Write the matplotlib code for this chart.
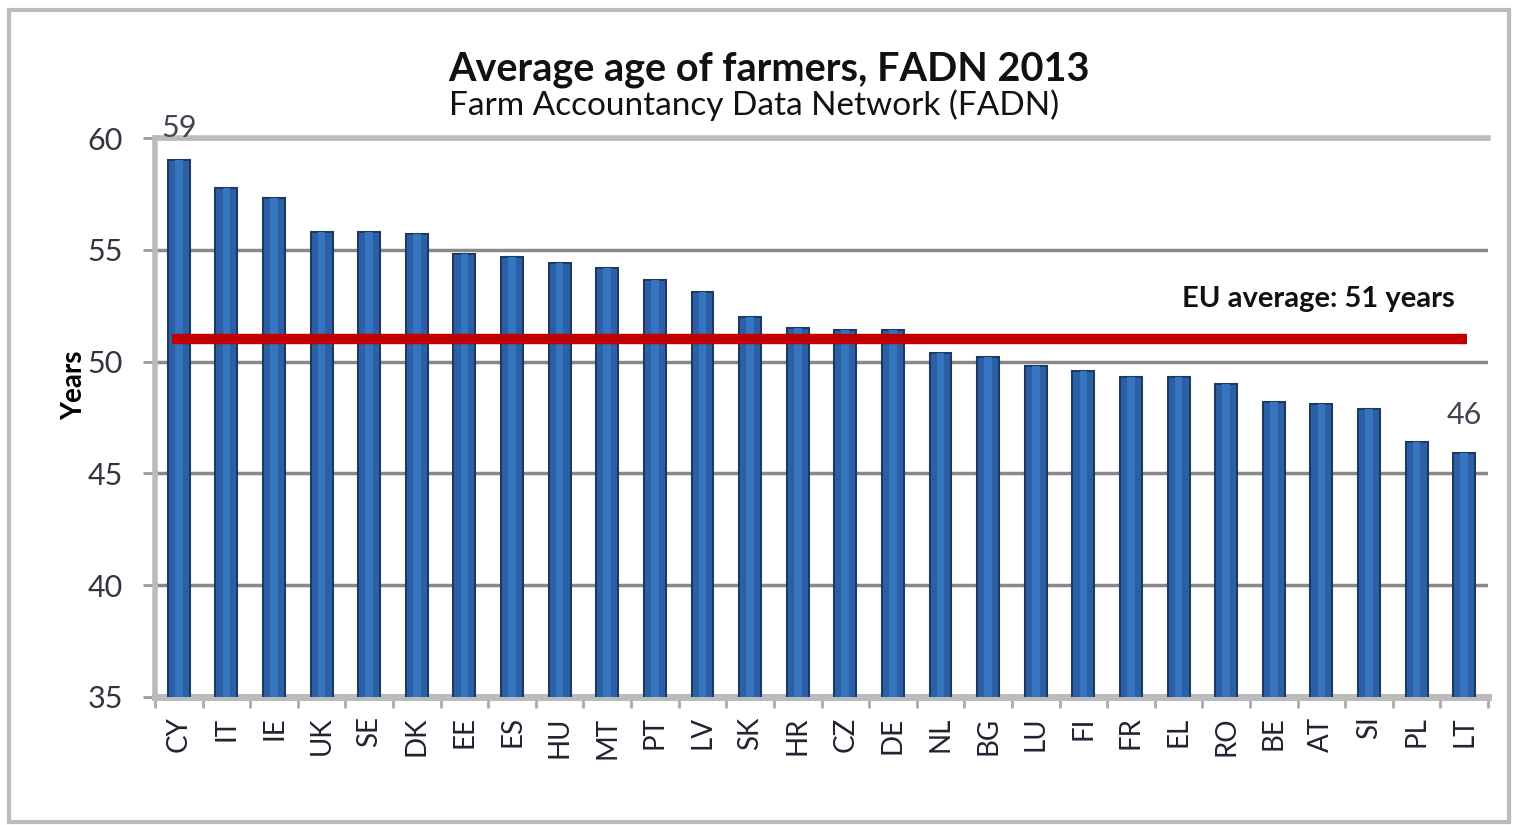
import matplotlib
matplotlib.use("Agg")
import matplotlib.pyplot as plt
from matplotlib.patches import Rectangle
import numpy as np

countries = ["CY", "IT", "IE", "UK", "SE", "DK", "EE", "ES", "HU", "MT", "PT", "LV", "SK", "HR",
             "CZ", "DE", "NL", "BG", "LU", "FI", "FR", "EL", "RO", "BE", "AT", "SI", "PL", "LT"]
ages = [59.0, 57.75, 57.3, 55.8, 55.8, 55.7, 54.8, 54.7, 54.4, 54.2, 53.65, 53.1, 52.0, 51.5,
        51.4, 51.4, 50.4, 50.2, 49.8, 49.6, 49.3, 49.3, 49.0, 48.2, 48.1, 47.9, 46.4, 45.9]
eu_average = 51
yticks = [35, 40, 45, 50, 55, 60]

plt.rcParams['font.family'] = ['Lato', 'DejaVu Sans']

fig = plt.figure(figsize=(15.18, 8.25), dpi=100)
ax = fig.add_axes([155/1518, 1-697/825, (1488-155)/1518, (697-138)/825])

x = np.arange(len(countries))
ax.bar(x, ages, width=0.46, color='#2c60a6', edgecolor='#1d3a63', linewidth=1.5, zorder=3)
ax.bar(x, ages, width=0.16, color='#3674bf', linewidth=0, zorder=3.5)

ax.set_xlim(-0.5, len(countries) - 0.5)
ax.set_ylim(35, 60)
ax.set_yticks(yticks)
ax.set_yticklabels([str(t) for t in yticks], fontsize=22, color='#333344')
ax.set_xticks(x)
ax.set_xticklabels(countries, rotation=90, fontsize=20, color='#222233')
ax.set_xticks(np.arange(-0.5, len(countries), 1), minor=True)
ax.tick_params(axis='x', which='major', length=0, pad=14)
ax.tick_params(axis='x', which='minor', length=8, width=2, color='#aaaaaa')
ax.tick_params(axis='y', length=9, width=2, color='#999999', pad=14)

ax.grid(axis='y', color='#888888', linewidth=2.5, zorder=0)
ax.spines['right'].set_visible(False)
ax.spines['top'].set_color('#bbbbbb')
ax.spines['top'].set_linewidth(4)
ax.spines['left'].set_color('#bbbbbb')
ax.spines['left'].set_linewidth(4)
ax.spines['bottom'].set_color('#bbbbbb')
ax.spines['bottom'].set_linewidth(5)

ax.hlines(eu_average, -0.15, len(countries) - 0.95, color='#c00000', linewidth=7.5, zorder=5)
ax.text(len(countries) - 1.2, eu_average + 1.8, "EU average: 51 years", ha='right', va='center',
        fontsize=21, fontweight='bold', color='#111111')

ax.text(0, ages[0] + 0.8, "59", ha='center', va='bottom', fontsize=22, color='#444455')
ax.text(len(countries) - 1, ages[-1] + 1.1, "46", ha='center', va='bottom', fontsize=22, color='#444455')

ax.set_ylabel("Years", fontsize=20, fontweight='bold')
ax.yaxis.set_label_coords(-0.051, 0.558)

fig.text(769/1518, 1-70/825, "Average age of farmers, FADN 2013", ha='center', va='center',
         fontsize=28.5, fontweight='bold', color='#111111')
fig.text(754/1518, 1-105/825, "Farm Accountancy Data Network (FADN)", ha='center', va='center',
         fontsize=24, color='#111111')

fig.patches.append(Rectangle((9/1518, 1-822/825), 1500/1518, 812/825, transform=fig.transFigure,
                             fill=False, edgecolor='#bbbbbb', linewidth=3))

fig.savefig("out.png", dpi=100)
